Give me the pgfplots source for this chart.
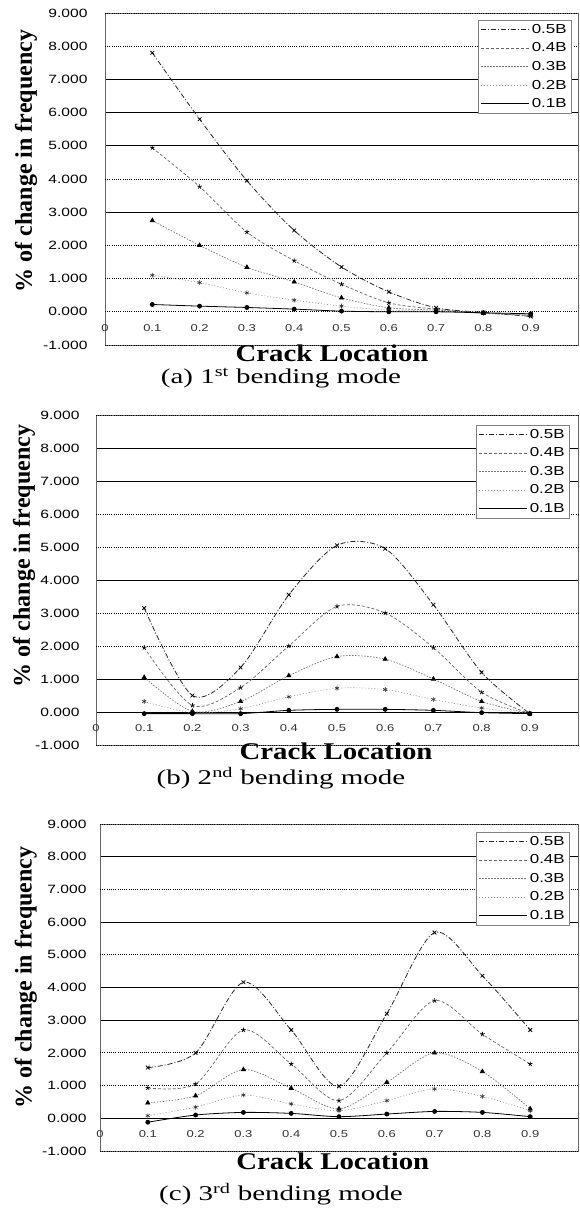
\documentclass[border=0pt]{standalone}
\usepackage{fontspec}
\setmainfont{Liberation Serif}
\newfontfamily\tickfont[FakeStretch=1.3]{Liberation Sans}
\newfontfamily\xlabfont[FakeStretch=1.2]{Liberation Serif}
\newfontfamily\capfont[FakeStretch=1.38]{Liberation Serif}
\usepackage{graphicx}
\usepackage{pgfplots}
\pgfplotsset{compat=1.18}
\pgfplotsset{
  /pgf/number format/.cd, fixed, fixed zerofill, precision=3, assume math mode=true,
  /pgfplots/.cd,
  mybase/.style={
    scale only axis, xmin=0, xmax=1, ymin=-1, ymax=9,
    xtick={0,0.1,0.2,0.3,0.4,0.5,0.6,0.7,0.8,0.9},
    xticklabels={0,0.1,0.2,0.3,0.4,0.5,0.6,0.7,0.8,0.9},
    major tick length=0pt, tick style={draw=none},
    ymajorgrids,
    axis line style={black!60, line width=0.6pt},
    major grid style={black, line width=0.9pt},
    extra y tick style={ymajorgrids, tick style={draw=none},
      grid style={black!50, line width=0.6pt, dash pattern=on 1pt off 1.2pt}},
    yticklabel style={font=\tickfont\fontsize{12}{14}\selectfont, anchor=east},
    xticklabel style={font=\tickfont\fontsize{10}{12}\selectfont, anchor=center, yshift=17pt, text=black!80},
    every axis y label/.style={rotate=90, anchor=center},
    every axis x label/.style={anchor=base},
    ylabel={\bfseries\fontsize{24}{28}\selectfont \% of change in frequency},
    xlabel={\xlabfont\bfseries\fontsize{24}{28}\selectfont Crack Location},
    legend image code/.code={\draw[#1] (0pt,0pt) -- (48pt,0pt);},
    legend cell align=left,
    legend style={anchor=north east, draw=black!50, line width=0.5pt, fill=white,
      font=\tickfont\fontsize{13}{15}\selectfont, inner xsep=3pt, inner ysep=2pt, row sep=4pt},
  },
  s5/.style={black!85, line width=0.8pt, dash pattern=on 5pt off 2pt on 1pt off 2pt, smooth, mark=x, mark size=2.6pt, mark options={solid, black}},
  s4/.style={black!60, line width=0.7pt, dash pattern=on 3pt off 2pt, smooth, mark=star, mark size=2.4pt, mark options={solid, black}},
  s3/.style={black!55, line width=0.7pt, dash pattern=on 1.5pt off 1.5pt, smooth, mark=triangle*, mark size=2.4pt, mark options={solid, black}},
  s2/.style={black!45, line width=0.6pt, dash pattern=on 1pt off 2pt, smooth, mark=asterisk, mark size=2.4pt, mark options={solid, black!80}},
  s1/.style={black, solid, line width=0.8pt, smooth, mark=*, mark size=2pt, mark options={solid, black}},
}
\begin{document}
\begin{tikzpicture}
\useasboundingbox (0pt,0pt) rectangle (579pt,1212pt);
% ---------------- (a) ----------------
\begin{axis}[mybase, at={(105pt,867pt)}, anchor=south west, width=473pt, height=332pt,
  ytick={3,5,6,7}, extra y ticks={-1,0,1,2,4,8,9},
  yticklabel style={xshift=-14pt},
  ylabel style={at={(rel axis cs:-0.167,0.554)}},
  xlabel style={at={(rel axis cs:0.48,-0.051)}},
  legend style={at={(rel axis cs:0.987,0.979)}}]
\addplot[s5] coordinates {(0.1,7.8)(0.2,5.8)(0.3,3.95)(0.4,2.45)(0.5,1.35)(0.6,0.6)(0.7,0.12)(0.8,-0.02)(0.9,-0.14)};
\addlegendentry{0.5B}
\addplot[s4] coordinates {(0.1,4.94)(0.2,3.77)(0.3,2.4)(0.4,1.54)(0.5,0.83)(0.6,0.27)(0.7,0.08)(0.8,-0.03)(0.9,-0.12)};
\addlegendentry{0.4B}
\addplot[s3] coordinates {(0.1,2.75)(0.2,2.0)(0.3,1.34)(0.4,0.9)(0.5,0.42)(0.6,0.12)(0.7,0.05)(0.8,-0.05)(0.9,-0.1)};
\addlegendentry{0.3B}
\addplot[s2] coordinates {(0.1,1.1)(0.2,0.88)(0.3,0.57)(0.4,0.35)(0.5,0.17)(0.6,0.05)(0.7,0.02)(0.8,-0.04)(0.9,-0.08)};
\addlegendentry{0.2B}
\addplot[s1] coordinates {(0.1,0.22)(0.2,0.17)(0.3,0.13)(0.4,0.08)(0.5,0.02)(0.6,0.0)(0.7,0.0)(0.8,-0.03)(0.9,-0.06)};
\addlegendentry{0.1B}
\end{axis}
\node[anchor=base, font=\capfont\fontsize{21}{24}\selectfont] at (281pt,828pt) {(a) 1\textsuperscript{st} bending mode};
% ---------------- (b) ----------------
\begin{axis}[mybase, at={(96pt,467pt)}, anchor=south west, width=482pt, height=330pt,
  ytick={0,1,4,7,8}, extra y ticks={-1,2,3,5,6,9},
  yticklabel style={xshift=-13pt},
  ylabel style={at={(rel axis cs:-0.149,0.573)}},
  xlabel style={at={(rel axis cs:0.498,-0.043)}},
  legend style={at={(rel axis cs:0.983,0.97)}}]
\addplot[s5] coordinates {(0.1,3.15)(0.2,0.5)(0.3,1.35)(0.4,3.55)(0.5,5.05)(0.6,4.95)(0.7,3.25)(0.8,1.2)(0.9,-0.05)};
\addlegendentry{0.5B}
\addplot[s4] coordinates {(0.1,1.95)(0.2,0.2)(0.3,0.74)(0.4,2.0)(0.5,3.2)(0.6,3.0)(0.7,1.95)(0.8,0.6)(0.9,-0.05)};
\addlegendentry{0.4B}
\addplot[s3] coordinates {(0.1,1.05)(0.2,0.02)(0.3,0.32)(0.4,1.1)(0.5,1.68)(0.6,1.6)(0.7,1.0)(0.8,0.32)(0.9,-0.05)};
\addlegendentry{0.3B}
\addplot[s2] coordinates {(0.1,0.32)(0.2,-0.02)(0.3,0.1)(0.4,0.46)(0.5,0.72)(0.6,0.68)(0.7,0.38)(0.8,0.12)(0.9,-0.05)};
\addlegendentry{0.2B}
\addplot[s1] coordinates {(0.1,-0.05)(0.2,-0.05)(0.3,-0.05)(0.4,0.05)(0.5,0.08)(0.6,0.08)(0.7,0.05)(0.8,-0.02)(0.9,-0.05)};
\addlegendentry{0.1B}
\end{axis}
\node[anchor=base, font=\capfont\fontsize{21}{24}\selectfont] at (281pt,427pt) {(b) 2\textsuperscript{nd} bending mode};
% ---------------- (c) ----------------
\begin{axis}[mybase, at={(100pt,61pt)}, anchor=south west, width=478pt, height=327pt,
  ytick={0,3,4,6,8}, extra y ticks={-1,1,2,5,7,9},
  yticklabel style={xshift=-10pt},
  ylabel style={at={(rel axis cs:-0.155,0.53)}},
  xlabel style={at={(rel axis cs:0.487,-0.058)}},
  legend style={at={(rel axis cs:0.983,0.976)}}]
\addplot[s5] coordinates {(0.1,1.55)(0.2,2.0)(0.3,4.16)(0.4,2.7)(0.5,0.98)(0.6,3.2)(0.7,5.68)(0.8,4.36)(0.9,2.7)};
\addlegendentry{0.5B}
\addplot[s4] coordinates {(0.1,0.93)(0.2,1.05)(0.3,2.7)(0.4,1.66)(0.5,0.54)(0.6,2.0)(0.7,3.6)(0.8,2.57)(0.9,1.66)};
\addlegendentry{0.4B}
\addplot[s3] coordinates {(0.1,0.47)(0.2,0.69)(0.3,1.49)(0.4,0.92)(0.5,0.29)(0.6,1.1)(0.7,2.0)(0.8,1.43)(0.9,0.29)};
\addlegendentry{0.3B}
\addplot[s2] coordinates {(0.1,0.08)(0.2,0.34)(0.3,0.71)(0.4,0.44)(0.5,0.23)(0.6,0.54)(0.7,0.9)(0.8,0.67)(0.9,0.23)};
\addlegendentry{0.2B}
\addplot[s1] coordinates {(0.1,-0.12)(0.2,0.1)(0.3,0.18)(0.4,0.15)(0.5,0.05)(0.6,0.13)(0.7,0.21)(0.8,0.18)(0.9,0.05)};
\addlegendentry{0.1B}
\end{axis}
\node[anchor=base, font=\capfont\fontsize{21}{24}\selectfont] at (281pt,11pt) {(c) 3\textsuperscript{rd} bending mode};
\end{tikzpicture}
\end{document}
